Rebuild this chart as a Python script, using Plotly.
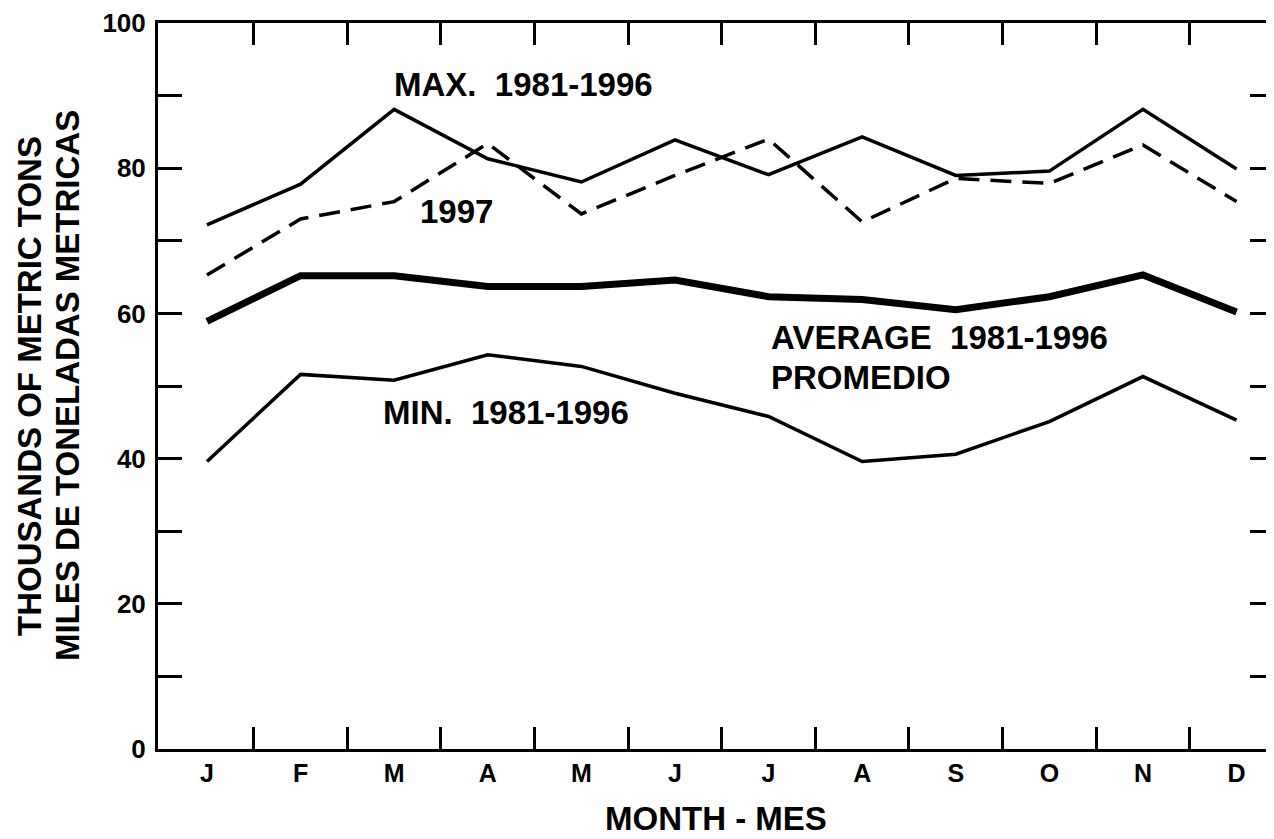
import plotly.graph_objects as go

months = ['J', 'F', 'M', 'A', 'M', 'J', 'J', 'A', 'S', 'O', 'N', 'D']
month_idx = list(range(12))

max_1981_1996 = [72.2, 77.8, 88.1, 81.3, 78.1, 83.9, 79.1, 84.3, 79.0, 79.6, 88.1, 79.9]
catch_1997 = [65.3, 73.0, 75.4, 83.4, 73.7, 79.0, 84.0, 72.6, 78.6, 77.9, 83.2, 75.4]
avg_1981_1996 = [58.9, 65.2, 65.2, 63.7, 63.7, 64.6, 62.3, 61.9, 60.5, 62.3, 65.3, 60.2]
min_1981_1996 = [39.6, 51.6, 50.8, 54.3, 52.7, 49.0, 45.8, 39.6, 40.6, 45.1, 51.3, 45.3]

y_ticks = list(range(0, 101, 10))
y_labels = [str(v) if v % 20 == 0 else '' for v in y_ticks]
month_bounds = [i + 0.5 for i in range(11)]

FONT = 'Liberation Sans, Arial, sans-serif'
x_range = [-0.523, 11.4]

fig = go.Figure()

# data lines
fig.add_trace(go.Scatter(x=month_idx, y=max_1981_1996, mode='lines',
                         line=dict(color='black', width=3.5)))
fig.add_trace(go.Scatter(x=month_idx, y=catch_1997, mode='lines',
                         line=dict(color='black', width=3.5, dash='21px,11px')))
fig.add_trace(go.Scatter(x=month_idx, y=avg_1981_1996, mode='lines',
                         line=dict(color='black', width=7)))
fig.add_trace(go.Scatter(x=month_idx, y=min_1981_1996, mode='lines',
                         line=dict(color='black', width=3.5)))
# invisible trace to carry the overlay axes (month boundary ticks, right ticks)
fig.add_trace(go.Scatter(x=month_idx, y=avg_1981_1996, mode='lines',
                         xaxis='x2', yaxis='y2', opacity=0, hoverinfo='skip'))

# page body has an 8px margin, so the figure is 8px smaller than the window
fig.update_layout(
    width=1266, height=831,
    paper_bgcolor='white', plot_bgcolor='white',
    margin=dict(l=150, r=0, t=12, b=90),
    showlegend=False,
    font=dict(family=FONT, color='black', weight='bold'),
    xaxis=dict(range=x_range, tickmode='array', tickvals=month_idx, ticktext=months,
               ticks='', showgrid=False, zeroline=False,
               showline=True, linecolor='black', linewidth=3, mirror=True,
               tickfont=dict(size=25, family=FONT, weight='bold'),
               ticklabelstandoff=0),
    xaxis2=dict(range=x_range, overlaying='x', tickmode='array', tickvals=month_bounds,
                ticks='inside', ticklen=22, tickwidth=2.5, tickcolor='black',
                showticklabels=False, showgrid=False, zeroline=False,
                showline=False, mirror='ticks'),
    yaxis=dict(range=[0, 100], tickmode='array', tickvals=y_ticks, ticktext=y_labels,
               ticks='inside', ticklen=24, tickwidth=2.5, tickcolor='black',
               showgrid=False, zeroline=False,
               showline=True, linecolor='black', linewidth=3,
               tickfont=dict(size=26, family=FONT, weight='bold'),
               ticklabelstandoff=4, ticklabeloverflow='allow'),
    yaxis2=dict(range=[0, 100], overlaying='y', side='right', tickmode='array',
                tickvals=y_ticks, ticks='inside', ticklen=24, tickwidth=2.5,
                tickcolor='black', showticklabels=False, showgrid=False,
                zeroline=False, showline=False),
)

label_font = dict(size=33, family=FONT, color='black', weight='bold')
notes = [
    ('MAX.\u00a0\u00a01981-1996', 1.977, 91.5),
    ('1997', 2.25, 74.0),
    ('AVERAGE\u00a0\u00a01981-1996', 6.01, 56.7),
    ('PROMEDIO', 6.01, 51.2),
    ('MIN.\u00a0\u00a01981-1996', 1.86, 46.4),
]
for text, x, y in notes:
    fig.add_annotation(text=text, x=x, y=y, xref='x', yref='y',
                       xanchor='left', yanchor='middle', showarrow=False,
                       font=label_font)

# axis titles
fig.add_annotation(text='THOUSANDS OF METRIC TONS', xref='paper', yref='paper',
                   x=-0.1156, y=0.5, textangle=-90, showarrow=False,
                   xanchor='center', yanchor='middle', font=label_font)
fig.add_annotation(text='MILES DE TONELADAS METRICAS', xref='paper', yref='paper',
                   x=-0.0815, y=0.5, textangle=-90, showarrow=False,
                   xanchor='center', yanchor='middle', font=label_font)
fig.add_annotation(text='MONTH - MES', xref='paper', yref='paper',
                   x=0.5, y=-0.096, showarrow=False,
                   xanchor='center', yanchor='middle', font=label_font)

fig.write_html('out.html')
